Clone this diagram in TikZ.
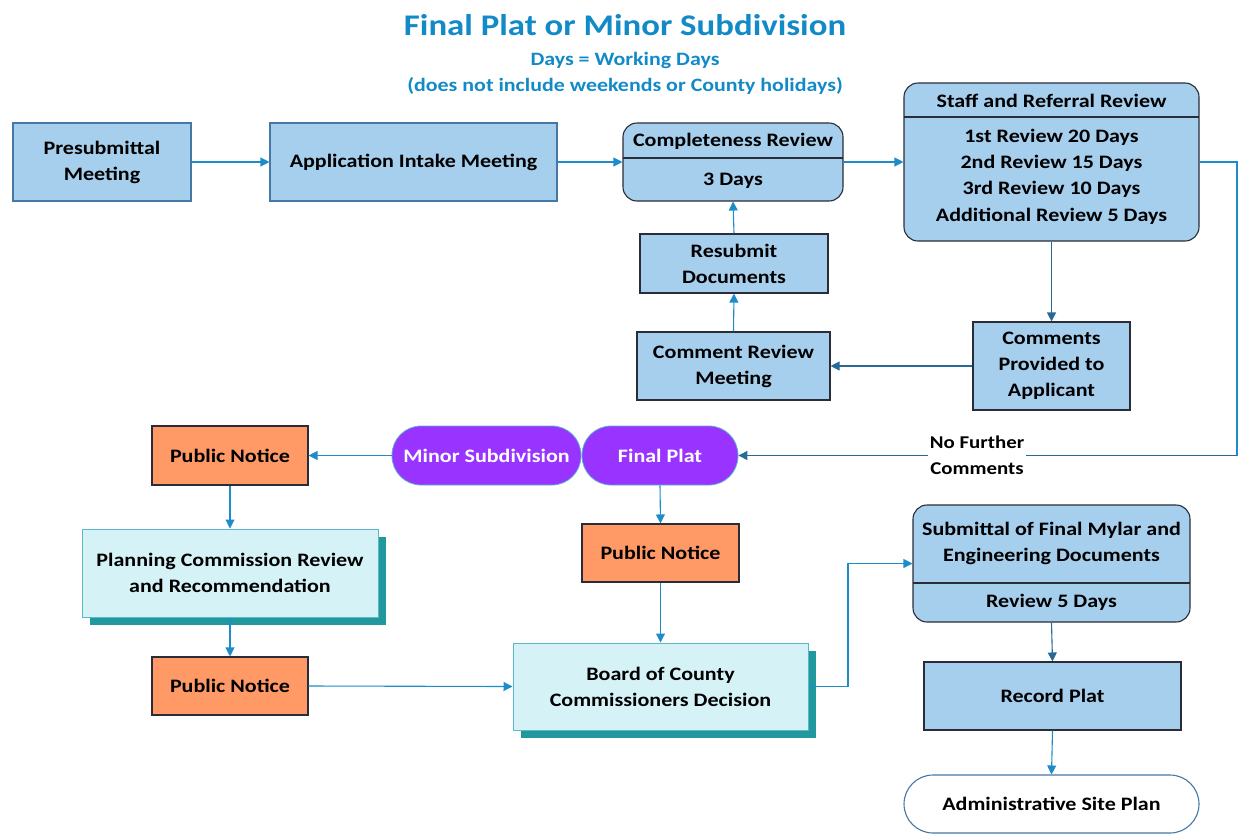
\documentclass[tikz,border=0pt]{standalone}
\usepackage{fontspec}
\setmainfont{Carlito}[FakeStretch=1.16]
\usetikzlibrary{arrows.meta,shadows}
\definecolor{boxblue}{RGB}{166,206,237}
\definecolor{edgeblue}{RGB}{70,120,165}
\definecolor{darkedge}{RGB}{40,45,55}
\definecolor{titleblue}{RGB}{18,138,200}
\definecolor{arrowblue}{RGB}{30,140,200}
\definecolor{arrowdark}{RGB}{40,105,150}
\definecolor{purplepill}{RGB}{153,51,255}
\definecolor{orangebox}{RGB}{255,153,102}
\definecolor{cyanbox}{RGB}{213,243,247}
\definecolor{cyanedge}{RGB}{90,185,200}
\definecolor{tealshadow}{RGB}{32,152,158}
\begin{document}
\begin{tikzpicture}[x=1pt,y=-1pt,
  every node/.style={font=\fontsize{19}{26}\selectfont\bfseries, align=center, inner sep=0pt},
  bluebox/.style={draw=edgeblue, line width=1.1pt, fill=boxblue},
  darkbox/.style={draw=darkedge, line width=1.1pt, fill=boxblue},
  roundbox/.style={draw=darkedge, line width=1.1pt, fill=boxblue, rounded corners=14pt},
  pill/.style={draw=cyanedge, line width=0.8pt, fill=purplepill, text=white, rounded corners=29pt},
  notice/.style={draw=darkedge, line width=1.1pt, fill=orangebox},
  cyanbx/.style={draw=cyanedge, line width=1pt, fill=cyanbox, drop shadow={shadow xshift=8pt, shadow yshift=-8pt, fill=tealshadow, opacity=1}},
  endpill/.style={draw=edgeblue, line width=1.1pt, fill=white, rounded corners=29pt},
  arr/.style={draw=arrowblue, line width=1.1pt, -{Triangle[length=9pt,width=9pt]}},
  arrd/.style={draw=arrowdark, line width=1.1pt, -{Triangle[length=9pt,width=9pt]}},
  sz/.style 2 args={minimum width=#1pt, minimum height=#2pt}
]
\useasboundingbox (0,0) rectangle (1238,833);
% title
\node[text=titleblue, font=\fontsize{30}{34}\selectfont\bfseries] (title) at (625,25) {Final Plat or Minor Subdivision};
\node[text=titleblue, font=\fontsize{18.9}{26}\selectfont\bfseries] (sub) at (625,73) {Days = Working Days\\(does not include weekends or County holidays)};

% top row
\node[bluebox, sz={178}{78}] (pre) at (102,162) {Presubmittal\\Meeting};
\node[bluebox, sz={287}{78}] (app) at (413.5,162) {Application Intake Meeting};
\node[roundbox, sz={220}{78}] (comp) at (733,162) {};
\draw[darkedge, line width=1.1pt] (623,158) -- (843,158);
\node (compT) at (733,141) {Completeness Review};
\node (compB) at (733,181) {3 Days};
\node[roundbox, sz={295}{158}] (staff) at (1051.5,162) {};
\draw[darkedge, line width=1.1pt] (904,117) -- (1199,117);
\node (staffT) at (1051.5,101) {Staff and Referral Review};
\node[font=\fontsize{19}{26.3}\selectfont\bfseries] (staffB) at (1051.5,176.5) {1st Review 20 Days\\2nd Review 15 Days\\3rd Review 10 Days\\Additional Review 5 Days};

\node[darkbox, sz={188}{59}] (resub) at (734,263.5) {Resubmit\\Documents};
\node[darkbox, sz={193}{68}] (crm) at (733.5,366) {Comment Review\\Meeting};
\node[darkbox, sz={157}{88}] (cpa) at (1051.5,366) {Comments\\Provided to\\Applicant};

% middle row
\node[pill, sz={189}{59}] (minor) at (486.5,455.5) {Minor Subdivision};
\node[pill, sz={156}{59}] (final) at (660,455.5) {Final Plat};
\node[notice, sz={156}{59}] (pn1) at (230,455.5) {Public Notice};
\node[cyanbx, sz={296}{88}] (plan) at (230,573) {Planning Commission Review\\and Recommendation};
\node[notice, sz={156}{58}] (pn3) at (230,686) {Public Notice};
\node[notice, sz={157}{58}] (pn2) at (660.5,553) {Public Notice};
\node[cyanbx, sz={295}{87}] (board) at (660.5,686.5) {Board of County\\Commissioners Decision};

% right lower
\node[roundbox, sz={277}{117}] (subm) at (1051.5,563.5) {};
\draw[darkedge, line width=1.1pt] (913,583) -- (1190,583);
\node (submT) at (1051.5,543.5) {Submittal of Final Mylar and\\Engineering Documents};
\node (submB) at (1051.5,602.5) {Review 5 Days};
\node[darkbox, sz={257}{68}] (rec) at (1052.5,696) {Record Plat};
\node[endpill, sz={295}{58}] (admin) at (1051.5,804) {Administrative Site Plan};

% connectors
\draw[arr] (pre) -- (app);
\draw[arr] (app) -- (comp);
\draw[arr] (comp.east) -- (staff.west |- comp.east);
\coordinate (rtop) at (1237,162);
\coordinate (rbot) at (1237,455.5);
\draw[arrowblue, line width=1.1pt] (staff.east |- rtop) -- (rtop) -- (rbot);
\draw[arrd] (rbot) -- (final.east);
\node[fill=white, inner sep=2pt, font=\fontsize{18}{26}\selectfont\bfseries] (nfc) at (977,455) {No Further\\Comments};
\draw[arrd] (staff.south) -- (cpa.north);
\draw[arrd] (cpa.west) -- (crm.east);
\draw[arr] (crm.north) -- (resub.south);
\draw[arr] (resub.north) -- (comp.south);
\draw[arr] (minor.west) -- (pn1.east);
\draw[arr] (pn1.south) -- (plan.north);
\draw[arr] (plan.south) -- (pn3.north);
\draw[arr] (pn3.east) -- (board.west);
\draw[arr] (final.south) -- (pn2.north);
\draw[arr] (pn2.south) -- (board.north);
\coordinate (bend) at (848,686.5);
\draw[arr] (board.east) -- (bend) |- (subm.west);
\draw[arrd] (subm.south) -- (rec.north);
\draw[arr] (rec.south) -- (admin.north);
\end{tikzpicture}
\end{document}
